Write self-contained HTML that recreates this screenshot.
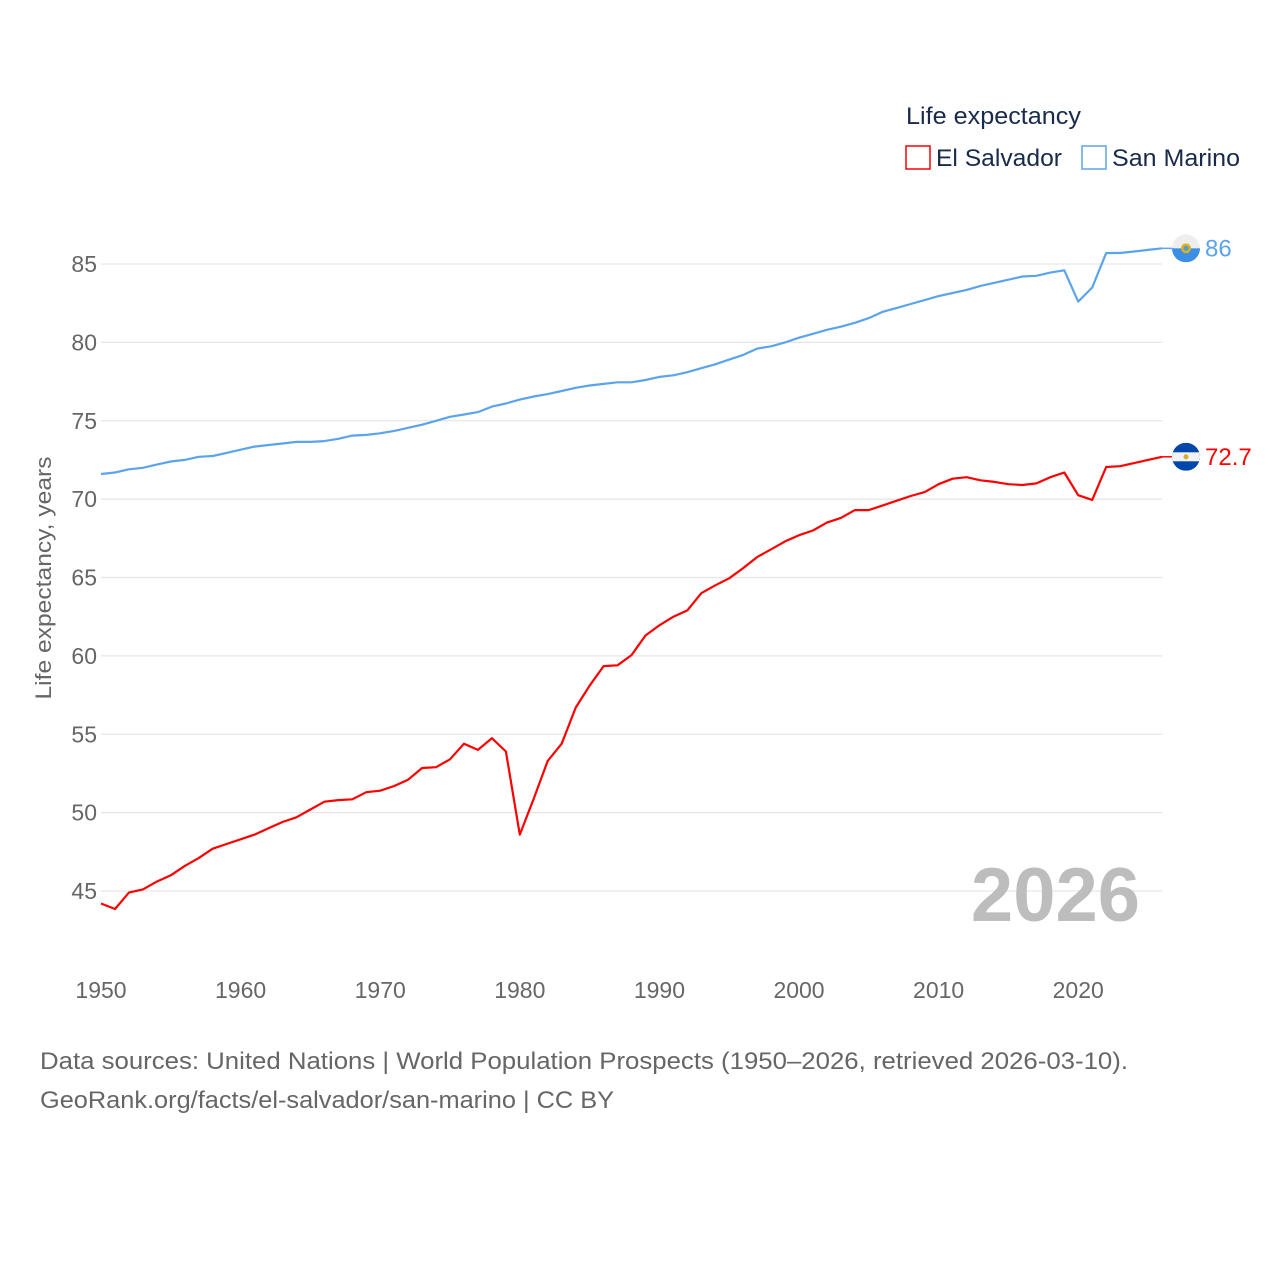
<!DOCTYPE html>
<html><head><meta charset="utf-8"><style>
body{margin:0;background:#fff;font-family:"Liberation Sans",sans-serif}
</style></head><body>
<svg width="1280" height="1280" xmlns="http://www.w3.org/2000/svg" style="font-family:'Liberation Sans',sans-serif">
<g id="grid"></g>
<g id="yticks"></g>
<g id="xticks"></g>
<text transform="translate(51,578) rotate(-90)" text-anchor="middle" font-size="22" fill="#666" textLength="243" lengthAdjust="spacingAndGlyphs">Life expectancy, years</text>
<text x="1140" y="921" text-anchor="end" font-size="76" font-weight="bold" fill="#bdbdbd">2026</text>
<g id="series"></g>
<text x="906" y="124" font-size="24" fill="#1a2a4a" textLength="175" lengthAdjust="spacingAndGlyphs">Life expectancy</text>
<g>
<rect x="906" y="146" width="24" height="23" fill="none" stroke="#ff0000" stroke-width="1.5"/>
<text x="936" y="166" font-size="24" fill="#1a2a4a" textLength="126" lengthAdjust="spacingAndGlyphs">El Salvador</text></g>
<g>
<rect x="1082" y="146" width="24" height="23" fill="none" stroke="#5ba4ec" stroke-width="1.5"/>
<text x="1112" y="166" font-size="24" fill="#1a2a4a" textLength="128" lengthAdjust="spacingAndGlyphs">San Marino</text></g>
<g id="ends"></g>
<text x="40" y="1069" font-size="24" fill="#666" textLength="1088" lengthAdjust="spacingAndGlyphs">Data sources: United Nations | World Population Prospects (1950–2026, retrieved 2026-03-10).</text>
<text x="40" y="1108" font-size="24" fill="#666" textLength="574" lengthAdjust="spacingAndGlyphs">GeoRank.org/facts/el-salvador/san-marino | CC BY</text>
</svg>
<script>
const years=[];for(let y=1950;y<=2026;y++)years.push(y);
const elSalvador=[44.2,43.85,44.9,45.1,45.6,46.0,46.6,47.1,47.7,48.0,48.3,48.6,49.0,49.4,49.7,50.2,50.7,50.8,50.85,51.3,51.4,51.7,52.1,52.85,52.9,53.4,54.4,54.0,54.75,53.9,48.6,50.9,53.3,54.4,56.7,58.1,59.35,59.4,60.05,61.3,61.95,62.5,62.9,64.0,64.5,64.95,65.6,66.3,66.8,67.3,67.7,68.0,68.5,68.8,69.3,69.3,69.6,69.9,70.2,70.45,70.95,71.3,71.4,71.2,71.1,70.95,70.9,71.0,71.4,71.7,70.25,69.95,72.05,72.1,72.3,72.5,72.7];
const sanMarino=[71.6,71.7,71.9,72.0,72.2,72.4,72.5,72.7,72.75,72.95,73.15,73.35,73.45,73.55,73.65,73.65,73.7,73.85,74.05,74.1,74.2,74.35,74.55,74.75,75.0,75.25,75.4,75.55,75.9,76.1,76.35,76.55,76.7,76.9,77.1,77.25,77.35,77.45,77.45,77.6,77.8,77.9,78.1,78.35,78.6,78.9,79.2,79.6,79.75,80.0,80.3,80.55,80.8,81.0,81.25,81.55,81.95,82.2,82.45,82.7,82.95,83.15,83.35,83.6,83.8,84.0,84.2,84.25,84.45,84.6,82.6,83.5,85.7,85.7,85.8,85.9,86.0];
const yTicks=[45,50,55,60,65,70,75,80,85];
const xTicks=[1950,1960,1970,1980,1990,2000,2010,2020];
const NS="http://www.w3.org/2000/svg";
const X=v=>101+(v-1950)*(1162-101)/76;
const Y=v=>264+(85-v)*(891-264)/40;
function mk(t,a,p){const e=document.createElementNS(NS,t);for(const k in a)e.setAttribute(k,a[k]);p.appendChild(e);return e;}
const grid=document.getElementById('grid'),yt=document.getElementById('yticks'),xt=document.getElementById('xticks');
yTicks.forEach(v=>{
const l=mk('line',{x1:101,x2:1162,y1:Y(v),y2:Y(v),stroke:'#e6e6e6','stroke-width':1.2},grid);


const t=mk('text',{x:97,y:Y(v)+8,'text-anchor':'end','font-size':23,fill:'#666'},yt);t.textContent=v;


});
xTicks.forEach(v=>{
const t=mk('text',{x:X(v),y:998,'text-anchor':'middle','font-size':23,fill:'#666'},xt);t.textContent=v;


});
const ser=document.getElementById('series'),ends=document.getElementById('ends');
function line(vals,col,name){
const p=mk('path',{d:vals.map((v,i)=>(i?'L':'M')+X(years[i]).toFixed(1)+','+Y(v).toFixed(1)).join(''),fill:'none',stroke:col,'stroke-width':2.2,'stroke-linejoin':'round'},ser);


}
line(sanMarino,'#5ba4ec','san-marino');
line(elSalvador,'#ff0000','el-salvador');
function endLabel(vals,col,name,flag){
const v=vals[vals.length-1],y=Y(v),x=X(years[years.length-1]);
mk('line',{x1:x,x2:x+12,y1:y,y2:y,stroke:col,'stroke-width':1.5},ends);
const g=mk('g',{},ends);


const id='c'+name;
const cp=mk('clipPath',{id:id},g);mk('circle',{cx:1186,cy:y,r:14},cp);
const inner=mk('g',{'clip-path':'url(#'+id+')'},g);
if(flag==='sv'){mk('rect',{x:1172,y:y-14,width:28,height:28,fill:'#0047ab'},inner);mk('rect',{x:1172,y:y-4.5,width:28,height:9,fill:'#f2f2f2'},inner);mk('circle',{cx:1186,cy:y,r:2.5,fill:'#d4b030'},inner);}
else{mk('rect',{x:1172,y:y-14,width:28,height:14,fill:'#eeeeee'},inner);mk('rect',{x:1172,y:y,width:28,height:14,fill:'#3a8ee6'},inner);mk('circle',{cx:1186,cy:y,r:5,fill:'#e0b020'},inner);mk('circle',{cx:1186,cy:y,r:2.5,fill:'#4aa0d0'},inner);}
const t=mk('text',{x:1205,y:y+8,'font-size':24,fill:col},ends);t.textContent=v;


}
endLabel(sanMarino,'#5ba4ec','san-marino','sm');
endLabel(elSalvador,'#ff0000','el-salvador','sv');
</script>
</body></html>
